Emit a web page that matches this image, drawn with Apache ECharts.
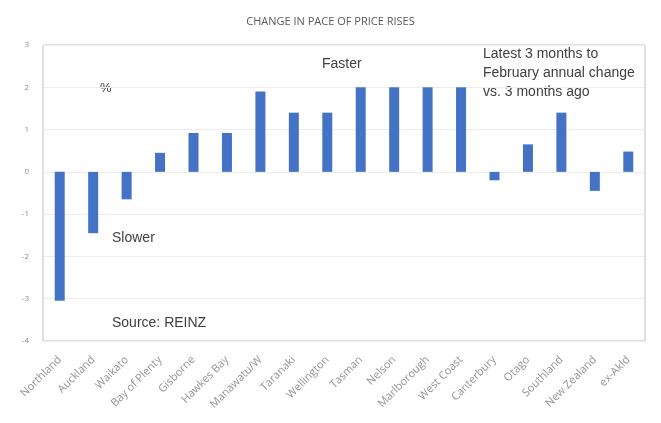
<!DOCTYPE html>
<html>
<head>
<meta charset="utf-8">
<script src="https://cdn.jsdelivr.net/npm/echarts@6/dist/echarts.min.js"></script>
<style>
  html, body { margin: 0; padding: 0; background: #fff; }
  #chart { width: 661px; height: 423px; }
</style>
</head>
<body>
<div id="chart"></div>
<script>
// regions along the x axis
var regions = ['Northland', 'Auckland', 'Waikato', 'Bay of Plenty', 'Gisborne', 'Hawkes Bay',
  'Manawatu/W', 'Taranaki', 'Wellington', 'Tasman', 'Nelson', 'Marlborough', 'West Coast',
  'Canterbury', 'Otago', 'Southland', 'New Zealand', 'ex-Akld'];
// change in pace, % pts
var paceChange = [-3.05, -1.45, -0.65, 0.45, 0.92, 0.92, 1.9, 1.4, 1.4, 2.0, 2.0, 2.0, 2.0,
  -0.2, 0.65, 1.4, -0.45, 0.48];
var yTicks = [-4, -3, -2, -1, 0, 1, 2, 3];

var chart = echarts.init(document.getElementById('chart'));

chart.setOption({
  animation: false,
  textStyle: { fontFamily: 'Open Sans, Noto Sans, sans-serif' },
  title: {
    text: 'CHANGE IN PACE OF PRICE RISES',
    left: 'center',
    top: 11,
    textStyle: { fontSize: 11, fontWeight: 'normal', color: '#595959' }
  },
  grid: {
    left: 43, right: 16, top: 45, bottom: 82,
    show: true, borderColor: '#c0c0c0', borderWidth: 1
  },
  xAxis: {
    type: 'category',
    data: regions,
    axisLine: { show: false },
    axisTick: { show: false },
    axisLabel: { rotate: 45, fontSize: 11, color: '#939393', interval: 0, margin: 17 }
  },
  yAxis: {
    type: 'value',
    min: yTicks[0],
    max: yTicks[yTicks.length - 1],
    interval: 1,
    axisLine: { show: false },
    axisTick: { show: false },
    axisLabel: { fontSize: 8, color: '#8c8c8c', margin: 14 },
    splitLine: { lineStyle: { color: '#ececec', width: 1 } }
  },
  series: [{
    type: 'bar',
    data: paceChange,
    barWidth: 10,
    itemStyle: { color: '#4472c4' }
  }],
  graphic: [
    { type: 'text', left: 100, top: 82, style: { text: '%', fontSize: 13, fill: '#404040' } },
    { type: 'text', left: 112, top: 231, style: { text: 'Slower', fontSize: 14, fill: '#404040' } },
    { type: 'text', left: 112, top: 316, style: { text: 'Source: REINZ', fontSize: 14, fill: '#404040' } },
    { type: 'text', left: 322, top: 57, style: { text: 'Faster', fontSize: 14, fill: '#404040' } },
    { type: 'text', left: 483, top: 45, style: {
        text: 'Latest 3 months to\nFebruary annual change\nvs. 3 months ago',
        fontSize: 14, lineHeight: 19, fill: '#404040' } }
  ]
});
</script>
</body>
</html>
